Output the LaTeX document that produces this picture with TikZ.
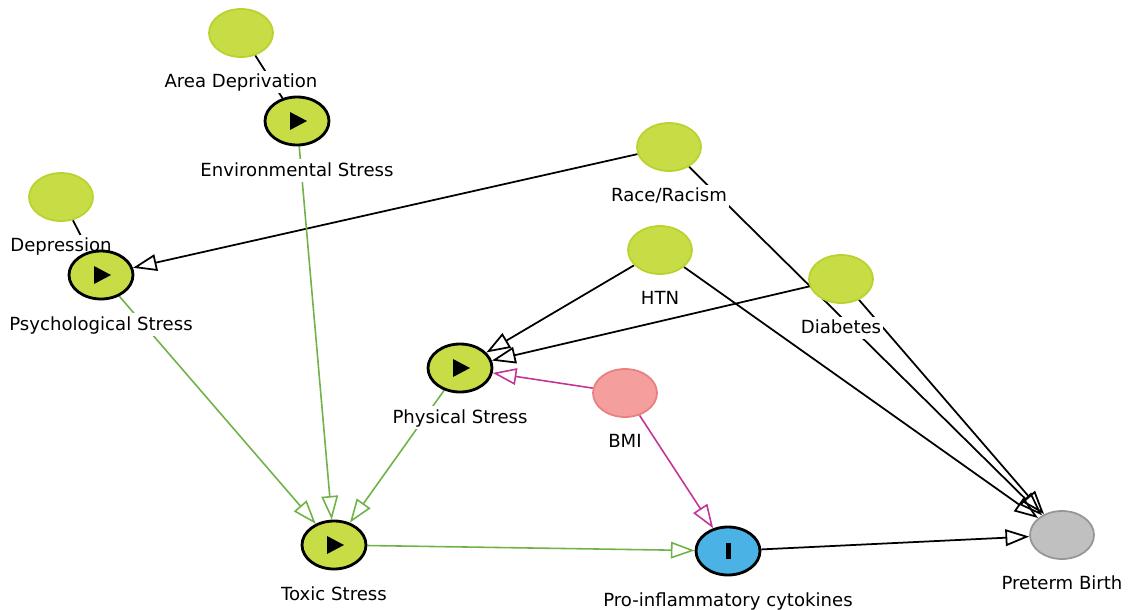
\documentclass[tikz,border=0pt]{standalone}
\usepackage{fontspec}
\setmainfont{DejaVu Sans}
\usetikzlibrary{arrows.meta,backgrounds,shapes.geometric}
\definecolor{lime}{RGB}{200,220,70}
\definecolor{limeline}{RGB}{186,210,46}
\definecolor{rose}{RGB}{245,158,158}
\definecolor{roseline}{RGB}{232,128,128}
\definecolor{sky}{RGB}{74,178,228}
\definecolor{greyfill}{RGB}{192,192,192}
\definecolor{greyline}{RGB}{150,150,150}
\definecolor{causal}{RGB}{110,178,72}
\definecolor{bias}{RGB}{196,52,150}
\begin{document}
\begin{tikzpicture}[x=0.02cm,y=-0.02cm,line join=round,label distance=7pt,
	>={Triangle[open,length=13.5pt,width=9.5pt]},
	var/.style={ellipse,minimum width=1.28cm,minimum height=0.96cm,inner sep=0pt,fill=lime,draw=limeline,line width=1pt},
	expo/.style={var,draw=black,line width=1.6pt,path picture={\fill[black] ([shift={(-7,-9)}]path picture bounding box.center) -- ++(0,18) -- ++(17,-9) -- cycle;}},
	outc/.style={var,fill=sky,draw=black,line width=1.6pt,path picture={\fill[black] ([shift={(-2.5,-8)}]path picture bounding box.center) rectangle ++(5,16);}},
	conf/.style={var,fill=rose,draw=roseline},
	other/.style={var,fill=greyfill,draw=greyline},
	every label/.style={fill=white,inner sep=1pt,text height=1.6ex,text depth=.4ex,font=\fontsize{10.3}{12}\selectfont},
	arc/.style={->,line width=1pt},
	causalarc/.style={->,line width=0.9pt,draw=causal},
	biasarc/.style={->,line width=0.9pt,draw=bias}]
	\useasboundingbox (0,0) rectangle (1133,609);
	% variables
	\node[var,label=below:Area Deprivation] (area) at (241,33) {};
	\node[expo,label=below:Environmental Stress] (env) at (297,121) {};
	\node[var,label=below:Depression] (dep) at (61,197) {};
	\node[expo,label=below:Psychological Stress] (psych) at (101,275) {};
	\node[var,label=below:Race/Racism] (race) at (669,147) {};
	\node[var,label=below:HTN] (htn) at (660,250) {};
	\node[var,label=below:Diabetes] (diab) at (841,279) {};
	\node[expo,label=below:Physical Stress] (phys) at (460,368) {};
	\node[conf,label=below:BMI] (bmi) at (625,393) {};
	\node[expo,label=below:Toxic Stress] (toxic) at (334,545) {};
	\node[outc,label=below:Pro-inflammatory cytokines] (cyto) at (728,551) {};
	\node[other,label=below:Preterm Birth] (preterm) at (1062,535) {};
	% arrows
	\begin{pgfonlayer}{background}
		\draw[line width=1pt] (area) -- (env);
		\draw[line width=1pt] (dep) -- (psych);
		\draw[arc] (race) -- (psych);
		\draw[arc] (race) -- (preterm);
		\draw[arc] (htn) -- (phys);
		\draw[arc] (htn) -- (preterm);
		\draw[arc] (diab) -- (phys);
		\draw[arc] (diab) -- (preterm);
		\draw[arc] (cyto) -- (preterm);
		\draw[biasarc] (bmi) -- (phys);
		\draw[biasarc] (bmi) -- (cyto);
		\draw[causalarc] (env) -- (toxic);
		\draw[causalarc] (psych) -- (toxic);
		\draw[causalarc] (phys) -- (toxic);
		\draw[causalarc] (toxic) -- (cyto);
	\end{pgfonlayer}
\end{tikzpicture}
\end{document}
